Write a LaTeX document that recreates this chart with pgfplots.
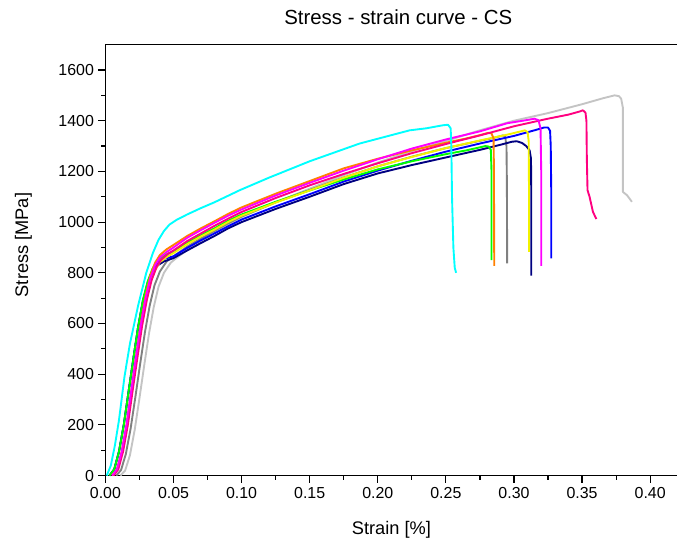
\documentclass[border=0pt]{standalone}
\usepackage{fontspec}
\setmainfont{Liberation Sans}
\usepackage{pgfplots}
\pgfplotsset{compat=1.18}

\definecolor{cCyan}{HTML}{00FFFF}
\definecolor{cGreen}{HTML}{00FF00}
\definecolor{cOrange}{HTML}{FF8000}
\definecolor{cGray}{HTML}{808080}
\definecolor{cYellow}{HTML}{F2F200}
\definecolor{cNavy}{HTML}{000080}
\definecolor{cMagenta}{HTML}{FF00FF}
\definecolor{cBlue}{HTML}{0000FF}
\definecolor{cPink}{HTML}{FF0080}
\definecolor{cSilver}{HTML}{C4C4C4}

\begin{document}
\begin{tikzpicture}
\begin{axis}[
  scale only axis, width=572.5bp, height=431.3bp,
  xmin=0, xmax=0.42, ymin=0, ymax=1700,
  axis lines=left, axis line style={-, line width=1.2pt},
  clip=false,
  xtick={0,0.05,...,0.4}, minor x tick num=1,
  ytick={0,200,...,1600}, minor y tick num=1,
  tick align=outside, major tick length=7bp, minor tick length=4bp,
  tick style={black, line width=1.2pt},
  /pgf/number format/assume math mode=true,
  /pgf/number format/1000 sep={},
  xticklabel style={font=\fontsize{16}{19}\selectfont, yshift=-1bp,
    /pgf/number format/.cd, fixed, fixed zerofill, precision=2},
  yticklabel style={font=\fontsize{16}{19}\selectfont, xshift=-1bp},
  xlabel={Strain [\%]}, ylabel={Stress [MPa]},
  xlabel style={font=\fontsize{18.3}{21}\selectfont, at={(axis description cs:0.5,-0.125)}, anchor=center},
  ylabel style={font=\fontsize{18.3}{21}\selectfont, at={(axis description cs:-0.1432,0.535)}, anchor=center},
  title={Stress - strain curve - CS},
  title style={font=\fontsize{20.5}{24}\selectfont, at={(axis description cs:0.512,1.05)}, anchor=center, yshift=0pt},
  every axis plot/.append style={line width=1.9pt, line join=round, no markers},
]
% silver
\addplot[cSilver] coordinates {(0.011,0) (0.0145,20) (0.018,80) (0.0215,180) (0.025,305) (0.0285,435) (0.032,560) (0.0355,665) (0.039,745) (0.043,800) (0.048,840) (0.053,862) (0.06,890) (0.07,925) (0.08,958) (0.09,990) (0.10,1020) (0.125,1078) (0.15,1132) (0.175,1185) (0.20,1235) (0.225,1280) (0.25,1320) (0.275,1362) (0.30,1400) (0.325,1430) (0.35,1465) (0.365,1488) (0.3738,1500) (0.377,1497) (0.3787,1487) (0.380,1450) (0.380,1119) (0.383,1106) (0.3866,1080)};
% dark gray
\addplot[cGray] coordinates {(0.008,0) (0.0115,22) (0.015,85) (0.0185,185) (0.022,310) (0.0255,440) (0.029,565) (0.0325,670) (0.036,750) (0.040,805) (0.045,845) (0.05,865) (0.06,903) (0.07,935) (0.08,965) (0.09,995) (0.10,1022) (0.125,1078) (0.15,1127) (0.175,1176) (0.20,1220) (0.225,1258) (0.25,1292) (0.27,1315) (0.285,1332) (0.292,1342) (0.2935,1338) (0.2945,1300) (0.2948,1150) (0.295,837)};
% navy
\addplot[cNavy] coordinates {(0.003,0) (0.0065,25) (0.010,95) (0.0135,200) (0.017,330) (0.0205,460) (0.024,585) (0.0275,685) (0.031,755) (0.0345,800) (0.038,828) (0.043,845) (0.05,858) (0.06,888) (0.07,917) (0.08,945) (0.09,975) (0.10,1000) (0.125,1052) (0.15,1100) (0.175,1150) (0.20,1192) (0.225,1225) (0.25,1255) (0.275,1285) (0.29,1305) (0.2985,1317) (0.302,1319) (0.306,1312) (0.309,1300) (0.3115,1283) (0.3125,1250) (0.3127,1100) (0.3127,789)};
% blue
\addplot[cBlue] coordinates {(0.003,0) (0.0065,25) (0.010,95) (0.0135,200) (0.017,330) (0.0205,460) (0.024,585) (0.0275,690) (0.031,762) (0.0345,808) (0.038,838) (0.043,855) (0.05,865) (0.06,898) (0.07,928) (0.08,955) (0.09,983) (0.10,1010) (0.125,1062) (0.15,1110) (0.175,1160) (0.20,1203) (0.225,1242) (0.25,1278) (0.275,1310) (0.30,1340) (0.315,1362) (0.322,1373) (0.325,1373) (0.3265,1360) (0.327,1300) (0.3274,1100) (0.3274,857)};
% green
\addplot[cGreen] coordinates {(0.003,0) (0.0065,25) (0.010,95) (0.0135,200) (0.017,330) (0.0205,460) (0.024,585) (0.0275,690) (0.031,765) (0.0345,815) (0.038,848) (0.043,868) (0.05,885) (0.06,918) (0.07,948) (0.08,975) (0.09,1005) (0.10,1030) (0.125,1080) (0.15,1125) (0.175,1168) (0.20,1208) (0.225,1240) (0.25,1268) (0.265,1283) (0.275,1295) (0.279,1300) (0.2815,1298) (0.283,1285) (0.2835,1200) (0.2835,850)};
% yellow
\addplot[cYellow] coordinates {(0.005,0) (0.0085,22) (0.012,88) (0.0155,190) (0.019,320) (0.0225,450) (0.026,575) (0.0295,680) (0.033,760) (0.0365,810) (0.040,842) (0.045,862) (0.05,878) (0.06,913) (0.07,943) (0.08,970) (0.09,1000) (0.10,1025) (0.125,1077) (0.15,1125) (0.175,1175) (0.20,1220) (0.225,1257) (0.25,1292) (0.275,1322) (0.295,1345) (0.305,1358) (0.308,1362) (0.310,1355) (0.3108,1320) (0.311,1150) (0.311,883)};
% orange
\addplot[cOrange] coordinates {(0.005,0) (0.0085,25) (0.012,95) (0.0155,200) (0.019,335) (0.0225,470) (0.026,600) (0.0295,710) (0.033,790) (0.0365,840) (0.040,870) (0.045,893) (0.05,910) (0.06,945) (0.07,975) (0.08,1003) (0.09,1032) (0.10,1058) (0.125,1112) (0.15,1162) (0.175,1212) (0.20,1250) (0.225,1283) (0.25,1313) (0.265,1330) (0.275,1343) (0.281,1352) (0.2835,1350) (0.285,1330) (0.2853,1200) (0.2855,827)};
% pink
\addplot[cPink] coordinates {(0.006,0) (0.0095,25) (0.013,95) (0.0165,200) (0.020,335) (0.0235,465) (0.027,592) (0.0305,695) (0.034,772) (0.0375,822) (0.041,852) (0.046,875) (0.05,888) (0.06,925) (0.07,955) (0.08,985) (0.09,1013) (0.10,1040) (0.125,1095) (0.15,1145) (0.175,1190) (0.20,1232) (0.225,1272) (0.25,1308) (0.275,1342) (0.30,1378) (0.325,1408) (0.34,1424) (0.348,1436) (0.3506,1441) (0.3525,1432) (0.3532,1400) (0.3535,1250) (0.354,1126) (0.3555,1100) (0.358,1040) (0.3605,1012)};
% magenta
\addplot[cMagenta] coordinates {(0.005,0) (0.0085,25) (0.012,95) (0.0155,200) (0.019,335) (0.0225,468) (0.026,595) (0.0295,700) (0.033,780) (0.0365,830) (0.040,860) (0.045,882) (0.05,900) (0.06,938) (0.07,968) (0.08,997) (0.09,1025) (0.10,1050) (0.125,1105) (0.15,1155) (0.175,1203) (0.20,1248) (0.225,1290) (0.25,1326) (0.275,1358) (0.295,1390) (0.31,1403) (0.315,1408) (0.318,1402) (0.3195,1370) (0.320,1200) (0.320,827)};
% cyan
\addplot[cCyan] coordinates {(0.001,0) (0.004,40) (0.007,120) (0.010,220) (0.014,390) (0.018,520) (0.024,670) (0.030,800) (0.035,880) (0.039,930) (0.043,965) (0.047,990) (0.052,1008) (0.060,1030) (0.070,1055) (0.080,1078) (0.0987,1126) (0.120,1175) (0.150,1240) (0.1867,1310) (0.2234,1362) (0.2356,1370) (0.2478,1382) (0.2516,1384) (0.2535,1370) (0.254,1300) (0.2545,1100) (0.2555,900) (0.2565,820) (0.2575,800)};
% top frame line and page size
\draw[line width=1.2pt] (rel axis cs:0,1) -- (rel axis cs:1,1);
\path (rel axis cs:0,0) ++(-105.5bp,-67bp) rectangle ++(678bp,543bp);
\end{axis}
\end{tikzpicture}
\end{document}
